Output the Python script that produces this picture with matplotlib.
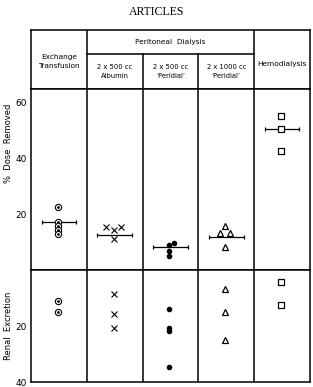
import numpy as np
import matplotlib
matplotlib.use("Agg")
from matplotlib import pyplot as plt

columns = ["Exchange\nTransfusion", "2 x 500 cc\nAlbumin", "2 x 500 cc\n\u2018Peridial\u2019",
           "2 x 1000 cc\n\u2018Peridial\u2019", "Hemodialysis"]

# % dose removed (upper panel)
removed_exchange = [22.8, 17.4, 15.9, 14.3, 12.9]
removed_albumin = [15.3, 14.4, 15.3, 11.2]
removed_peridial500 = [9.0, 9.8, 7.0, 5.2]
removed_peridial1000 = [15.9, 13.2, 13.2, 8.3]
removed_hemo = [55.3, 50.7, 42.6]
removed_means = [17.4, 12.6, 8.3, 12.0, 50.7]

# renal excretion (lower panel)
renal_exchange = [11.0, 14.9]
renal_albumin = [8.7, 15.7, 20.8]
renal_peridial500 = [13.9, 20.6, 21.9, 34.6]
renal_peridial1000 = [6.9, 15.1, 25.0]
renal_hemo = [4.3, 12.4]

# sideways shifts for points that sit side by side
off_albumin = [-0.14, 0.0, 0.14, 0.0]
off_peridial500 = [0.0, 0.08, 0.0, 0.0]
off_peridial1000 = [0.0, -0.09, 0.09, 0.0]

plt.rcParams['font.family'] = ['DejaVu Sans']
W, H = 313, 387
fig = plt.figure(figsize=(W / 100, H / 100), dpi=100)

def frac(x0, y0, x1, y1):
    return [x0 / W, 1 - y1 / H, (x1 - x0) / W, (y1 - y0) / H]

ax_h = fig.add_axes(frac(31, 30, 310, 89))
ax_u = fig.add_axes(frac(31, 89, 310, 270))
ax_l = fig.add_axes(frac(31, 270, 310, 382))

lw = 1.1
for ax in (ax_h, ax_u, ax_l):
    ax.set_xlim(0, 5)
    ax.set_xticks([])
    for s in ax.spines.values():
        s.set_linewidth(lw)

# header
ax_h.set_ylim(0, 1)
ax_h.set_yticks([])
ax_h.axvline(1, color='k', lw=lw)
ax_h.axvline(4, color='k', lw=lw)
ax_h.plot([1, 4], [0.593, 0.593], color='k', lw=lw)
ax_h.plot([2, 2], [0, 0.593], color='k', lw=lw)
ax_h.plot([3, 3], [0, 0.593], color='k', lw=lw)
fs = 5.3
ax_h.text(0.5, 0.46, columns[0], ha='center', va='center', fontsize=fs, linespacing=1.6)
ax_h.text(2.5, 0.8, "Peritoneal  Dialysis", ha='center', va='center', fontsize=fs)
for i in (1, 2, 3):
    ax_h.text(i + 0.5, 0.3, columns[i], ha='center', va='center', fontsize=fs - 0.4, linespacing=1.7)
ax_h.text(4.5, 0.42, columns[4], ha='center', va='center', fontsize=fs)

fig.text(157 / W, 1 - 12 / H, "ARTICLES", ha='center', va='center',
         fontsize=8.5, family='Liberation Serif')

for ax in (ax_u, ax_l):
    for xv in (1, 2, 3, 4):
        ax.axvline(xv, color='k', lw=lw)
    ax.tick_params(axis='y', length=0, labelsize=6.5, pad=3)

ax_u.set_ylim(0, 65)
ax_u.set_yticks([20, 40, 60])
ax_l.set_ylim(40, 0)
ax_l.set_yticks([20, 40])

ax_u.set_ylabel("%  Dose  Removed", fontsize=6)
ax_l.set_ylabel("Renal  Excretion", fontsize=6)
ax_u.yaxis.set_label_coords(-0.065, 0.7)
ax_l.yaxis.set_label_coords(-0.065, 0.5)

def plot_group(ax, col, vals, offs, kind):
    x = col + 0.5 + np.array(offs if offs is not None else [0.0] * len(vals)) - 0.02
    if kind == 'circ':
        ax.plot(x, vals, 'o', mfc='white', mec='k', ms=4.5, mew=0.8, zorder=3)
        ax.plot(x, vals, '.', color='k', ms=2, zorder=4)
    elif kind == 'x':
        ax.plot(x, vals, 'x', color='k', ms=5, mew=0.8, zorder=3)
    elif kind == 'dot':
        ax.plot(x, vals, 'o', color='k', ms=3, zorder=3)
    elif kind == 'tri':
        ax.plot(x, vals, '^', mfc='white', mec='k', ms=5, mew=0.9, zorder=3)
    elif kind == 'sq':
        ax.plot(x, vals, 's', mfc='white', mec='k', ms=5, mew=0.9, zorder=3)

upper = [(removed_exchange, None, 'circ'), (removed_albumin, off_albumin, 'x'),
         (removed_peridial500, off_peridial500, 'dot'),
         (removed_peridial1000, off_peridial1000, 'tri'), (removed_hemo, None, 'sq')]
lower = [(renal_exchange, None, 'circ'), (renal_albumin, None, 'x'),
         (renal_peridial500, None, 'dot'), (renal_peridial1000, None, 'tri'),
         (renal_hemo, None, 'sq')]

for i, (v, o, k) in enumerate(upper):
    plot_group(ax_u, i, v, o, k)
for i, (v, o, k) in enumerate(lower):
    plot_group(ax_l, i, v, o, k)

# mean bars
for i, m in enumerate(removed_means):
    ax_u.errorbar(i + 0.5, m, xerr=0.31, fmt='none', ecolor='k', elinewidth=0.9,
                  capsize=1.5, capthick=0.9, zorder=2)

fig.savefig("out.png", dpi=100)
